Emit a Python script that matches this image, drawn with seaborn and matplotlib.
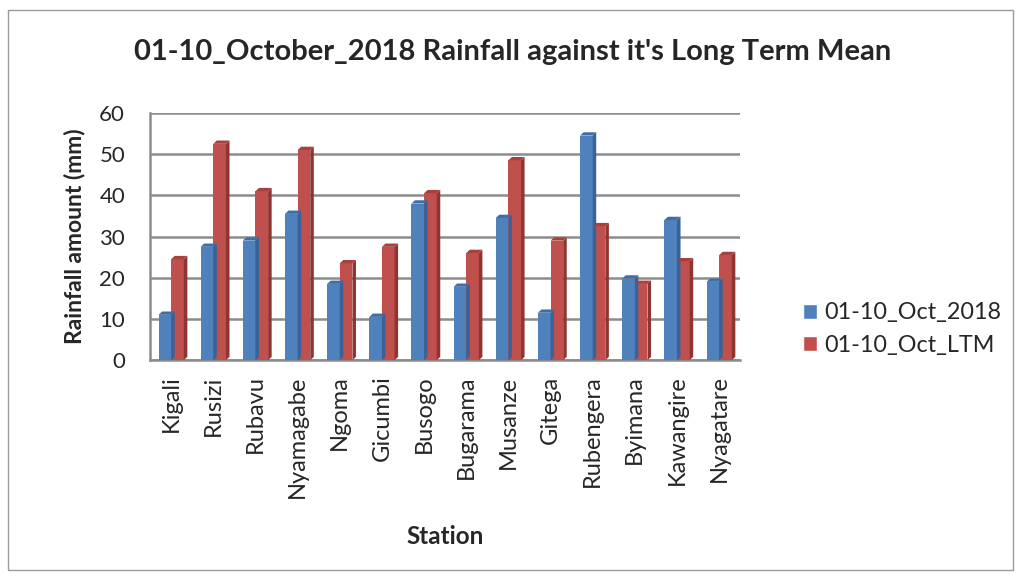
import pandas as pd
import matplotlib
matplotlib.use("Agg")
import matplotlib.pyplot as plt
import seaborn as sns
from matplotlib.patches import Rectangle, Polygon

stations = ["Kigali", "Rusizi", "Rubavu", "Nyamagabe", "Ngoma", "Gicumbi", "Busogo",
            "Bugarama", "Musanze", "Gitega", "Rubengera", "Byimana", "Kawangire", "Nyagatare"]
oct_2018 = [11, 27.5, 29, 35.5, 18.5, 10.5, 38, 17.8, 34.5, 11.5, 54.5, 19.8, 34, 19]
oct_ltm = [24.5, 52.5, 41, 51, 23.5, 27.5, 40.5, 26, 48.5, 29, 32.5, 18.5, 24, 25.5]
series = ["01-10_Oct_2018", "01-10_Oct_LTM"]

df = pd.DataFrame({
    "Station": stations * 2,
    "Rainfall": oct_2018 + oct_ltm,
    "Series": [series[0]] * len(stations) + [series[1]] * len(stations),
})

sns.set_style("white")
plt.rcParams["font.family"] = ["Lato", "DejaVu Sans"]

fig = plt.figure(figsize=(10.21, 5.79), dpi=100)
ax = fig.add_axes([0.147, 0.378, 0.578, 0.427])

palette = {series[0]: "#4F81BD", series[1]: "#C0504D"}
sns.barplot(data=df, x="Station", y="Rainfall", hue="Series", palette=palette,
            width=0.6, saturation=1, ax=ax, zorder=3)

# fake the side and top faces of the 3-D columns in the original
sides = ["#3A6296"] * len(stations) + ["#8E3532"] * len(stations)
tops = ["#3F6EA6"] * len(stations) + ["#A8403D"] * len(stations)
for bar, side, top in zip(list(ax.patches), sides, tops):
    bar.set_edgecolor("none")
    x0, w, h = bar.get_x(), bar.get_width(), bar.get_height()
    d, dy = w * 0.28, 0.8
    ax.add_patch(Polygon([(x0 + w, 0), (x0 + w + d, dy), (x0 + w + d, h + dy), (x0 + w, h)],
                         closed=True, facecolor=side, edgecolor="none", zorder=3))
    ax.add_patch(Polygon([(x0, h), (x0 + d, h + dy), (x0 + w + d, h + dy), (x0 + w, h)],
                         closed=True, facecolor=top, edgecolor="none", zorder=3))

ax.set_xlim(-0.5, len(stations) - 0.5)
ax.set_ylim(0, 60)
ax.set_yticks(range(0, 61, 10))
ax.yaxis.grid(True, color="#8C8C8C", linewidth=1.8, zorder=0)
ax.set_axisbelow(True)
for s in ["top", "right"]:
    ax.spines[s].set_visible(False)
for s in ["left", "bottom"]:
    ax.spines[s].set_color("#8C8C8C")
    ax.spines[s].set_linewidth(1.8)

ax.tick_params(axis="x", labelrotation=90, labelsize=17, length=0, pad=11)
ax.tick_params(axis="y", labelsize=16, length=0, pad=18)
ax.set_xlabel("Station", fontsize=17.5, fontweight="bold")
ax.xaxis.set_label_coords(0.5, -0.665)
ax.set_ylabel("Rainfall amount (mm)", fontsize=16.5, fontweight="bold")
ax.yaxis.set_label_coords(-0.11, 0.5)
fig.text(0.502, 0.91, "01-10_October_2018 Rainfall against it's Long Term Mean",
         fontsize=21, fontweight="bold", ha="center", va="center")

ax.legend(loc="center left", bbox_to_anchor=(1.07, 0.125), frameon=False,
          fontsize=16.8, handlelength=0.6, handleheight=0.6, labelspacing=0.5,
          handletextpad=0.35)

fig.patches.append(Rectangle((0.008, 0.015), 0.984, 0.968, transform=fig.transFigure,
                             fill=False, edgecolor="#9A9A9A", linewidth=1))

fig.savefig("out.png", dpi=100)
